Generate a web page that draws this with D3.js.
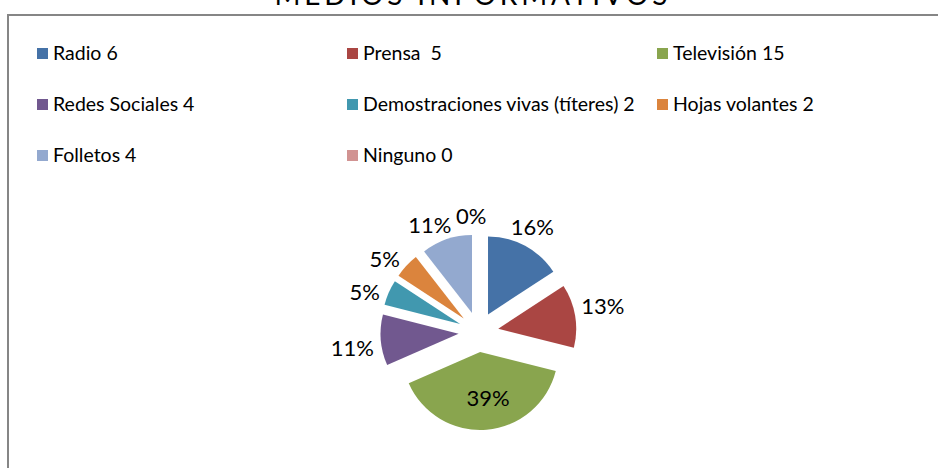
<!DOCTYPE html>
<html>
<head>
<meta charset="utf-8">
<script src="https://cdn.jsdelivr.net/npm/d3@7"></script>
<style>
  body { margin: 0; background: #fff; }
  svg { display: block; font-family: Lato, "Open Sans", sans-serif; }
</style>
</head>
<body>
<div id="chart"></div>
<script>
// datos del gráfico
var categories = ['Radio 6', 'Prensa  5', 'Televisión 15', 'Redes Sociales 4',
  'Demostraciones vivas (títeres) 2', 'Hojas volantes 2', 'Folletos 4', 'Ninguno 0'];
var values = [6, 5, 15, 4, 2, 2, 4, 0];
var colors = ['#4572A7', '#AA4643', '#89A54E', '#71588F', '#4198AF', '#DB843D', '#93A9CF', '#D19392'];
var title = 'MEDIOS INFORMATIVOS';

var width = 938, height = 468;

var svg = d3.select('#chart').append('svg')
  .attr('width', width)
  .attr('height', height);

// marco del gráfico
svg.append('rect')
  .attr('x', 8)
  .attr('y', 15)
  .attr('width', 960)
  .attr('height', 480)
  .attr('fill', 'none')
  .attr('stroke', '#868686')
  .attr('stroke-width', 2);

// título (recortado arriba, como en el original)
svg.append('text')
  .attr('x', 471)
  .attr('y', 5)
  .attr('text-anchor', 'middle')
  .attr('textLength', 393)
  .attr('lengthAdjust', 'spacing')
  .style('font-size', '28px')
  .attr('fill', '#000')
  .text(title);

// leyenda: 3 columnas
var legend = svg.selectAll('.legend')
  .data(categories)
  .enter()
  .append('g')
  .attr('class', 'legend')
  .attr('transform', function(d, i) {
    return 'translate(' + (37 + (i % 3) * 310) + ',' + (48 + Math.floor(i / 3) * 51) + ')';
  });

legend.append('rect')
  .attr('width', 11)
  .attr('height', 11)
  .attr('fill', function(d, i) { return colors[i]; });

legend.append('text')
  .attr('x', 16)
  .attr('y', 12)
  .style('font-size', '19.5px')
  .style('white-space', 'pre')
  .attr('fill', '#000')
  .text(function(d) { return d; });

// pastel separado
var total = d3.sum(values);
var cx = 478.5, cy = 332, r = 78, explode = 20;

var pie = d3.pie().sort(null).value(function(d) { return d; });
var arc = d3.arc().innerRadius(0).outerRadius(r);
var arcs = pie(values);

function midAngle(d) { return (d.startAngle + d.endAngle) / 2; }

var g = svg.append('g').attr('transform', 'translate(' + cx + ',' + cy + ')');

var slice = g.selectAll('.slice')
  .data(arcs)
  .enter()
  .append('g')
  .attr('class', 'slice')
  .attr('transform', function(d) {
    var a = midAngle(d);
    return 'translate(' + (Math.sin(a) * explode) + ',' + (-Math.cos(a) * explode) + ')';
  });

slice.append('path')
  .attr('d', arc)
  .attr('fill', function(d, i) { return colors[i]; });

// etiquetas de porcentaje
var labels = g.selectAll('.lbl')
  .data(arcs)
  .enter()
  .append('text')
  .attr('class', 'lbl')
  .attr('text-anchor', 'middle')
  .style('font-size', '22px')
  .attr('fill', '#000')
  .text(function(d) { return Math.round(d.value / total * 100) + '%'; });

labels.each(function(d) {
  var t = d3.select(this);
  var a = midAngle(d) - 0.06;
  var sx = Math.sin(a), sy = -Math.cos(a);
  var x, y;
  if (d.value / total > 0.3) {
    x = sx * (explode + r * 0.6);
    y = sy * (explode + r * 0.6);
  } else {
    var hw = this.getComputedTextLength() / 2, hh = 10;
    x = sx * (r + explode + 8) + sx * hw;
    y = sy * (r + explode + 8) + sy * hh;
  }
  t.attr('x', x).attr('y', y + 8);
});
</script>
</body>
</html>
